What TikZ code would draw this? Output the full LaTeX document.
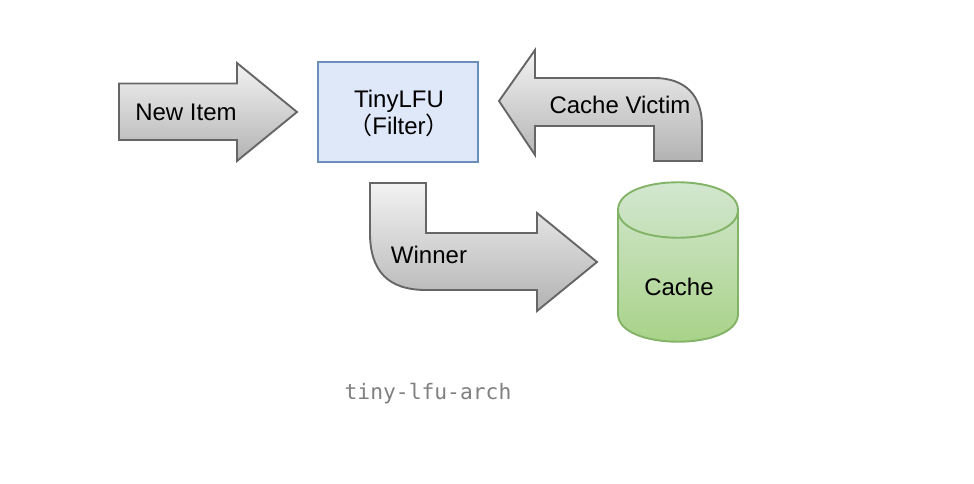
\documentclass[tikz,border=0pt]{standalone}
\usepackage{fontspec}
\setmainfont{Liberation Sans}
\setmonofont{DejaVu Sans Mono}
\newfontfamily\cjkfont{Noto Sans CJK SC}
\usepackage{tikz}
\usetikzlibrary{positioning}
\definecolor{arrowline}{HTML}{666666}
\definecolor{filterfill}{HTML}{DEE8F9}
\definecolor{filterline}{HTML}{6C8EBF}
\definecolor{cachetop}{HTML}{D5E8D4}
\definecolor{cachebottom}{HTML}{A6D184}
\definecolor{cacheline}{HTML}{82B366}
\tikzset{label/.style = {font=\fontsize{24}{27}\selectfont, inner sep=0pt, align=center}}
\tikzset{block/.style = {draw=arrowline, line width=1.9pt, line join=miter, top color=black!5, bottom color=black!30}}
\tikzset{filterbox/.style = {rectangle, draw=filterline, line width=1.9pt, fill=filterfill, minimum width=160pt, minimum height=100pt}}
\tikzset{drum/.style = {draw=cacheline, line width=1.9pt, top color=cachetop, bottom color=cachebottom}}
\tikzset{caption/.style = {font=\ttfamily\fontsize{21.3}{24}\selectfont, text=black!50, inner sep=0pt}}

\begin{document}
\begin{tikzpicture}[x=1pt, y=-1pt]
        \useasboundingbox (0,0) rectangle (974,484);

        \draw [block] (119,83.5) -- (237,83.5) -- (237,63) -- (297,112) -- (237,161) -- (237,140) -- (119,140) -- cycle;
        \draw [block] (499,101) -- (535,50) -- (535,78) -- (654,78) .. controls (685,78) and (702,95) .. (702,126) -- (702,161) -- (654,161) -- (654,126) -- (535,126) -- (535,155) -- cycle;
        \draw [block] (370,183) -- (426,183) -- (426,233) -- (537,233) -- (537,213) -- (597,262) -- (537,311) -- (537,290) -- (426,290) .. controls (388,290) and (370,271) .. (370,233) -- cycle;

        \draw [drum] (618,210) .. controls (618,173) and (738,173) .. (738,210) -- (738,314) .. controls (738,351) and (618,351) .. (618,314) -- cycle;
        \draw [draw=cacheline, line width=1.9pt] (618,210) .. controls (618,247) and (738,247) .. (738,210);

        \node [filterbox] (filter) at (398,112) {};
        \node [label] (filtertext) at (399,113.5) {TinyLFU\\{\cjkfont （}Filter{\cjkfont ）}};
        \node [label] (newitem) at (186,112) {New Item};
        \node [label] (victim) at (620,105) {Cache Victim};
        \node [label] (winner) at (429,255) {Winner};
        \node [label] (cache) at (679,287) {Cache};
        \node [caption] (caption) at (428,394) {tiny-lfu-arch};
    \end{tikzpicture}
\end{document}
